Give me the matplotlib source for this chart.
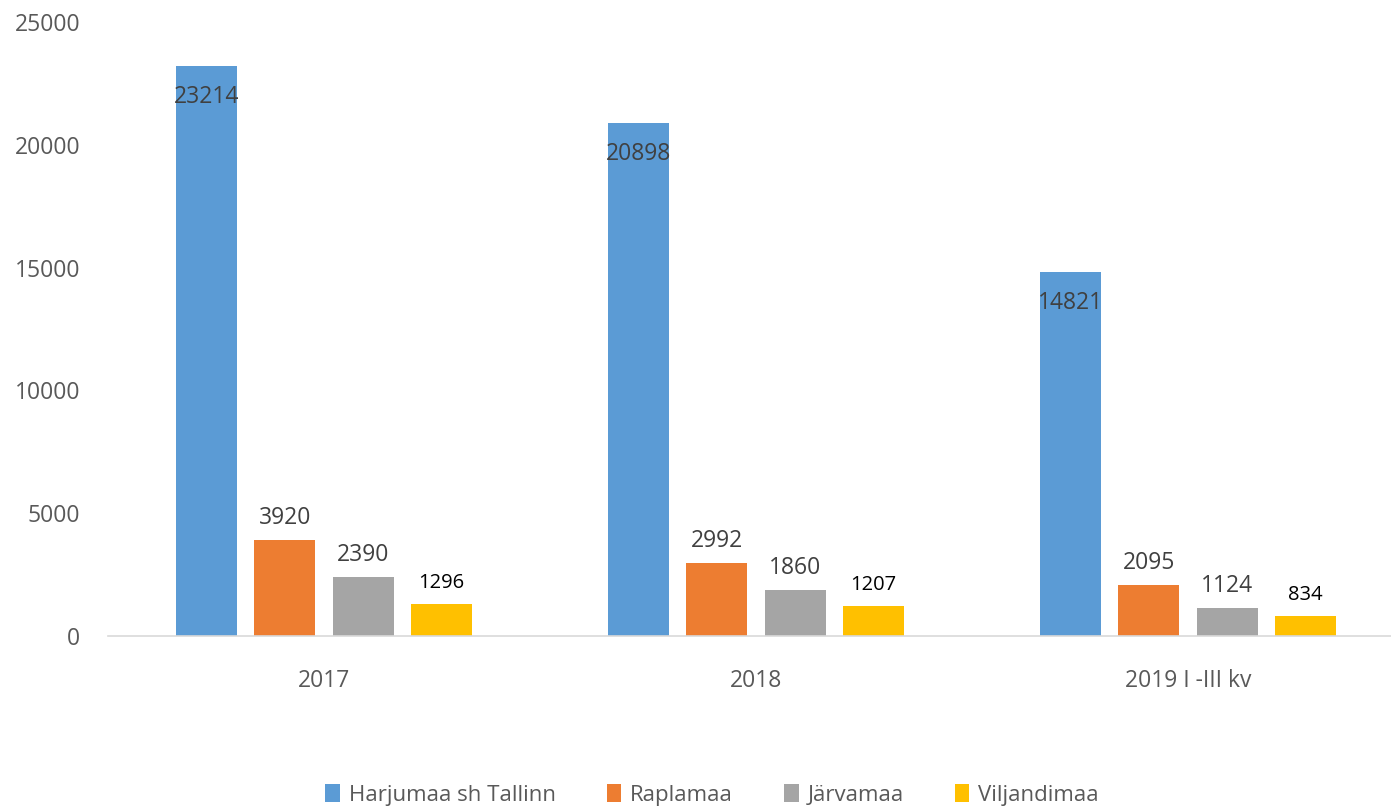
import numpy as np
import matplotlib.pyplot as plt

# data
periods = ['2017', '2018', '2019 I -III kv']
series = ['Harjumaa sh Tallinn', 'Raplamaa', 'Järvamaa', 'Viljandimaa']
harjumaa = [23214, 20898, 14821]
raplamaa = [3920, 2992, 2095]
jarvamaa = [2390, 1860, 1124]
viljandimaa = [1296, 1207, 834]
colors = ['#5B9BD5', '#ED7D31', '#A5A5A5', '#FFC000']

plt.rcParams['font.family'] = ['Open Sans', 'DejaVu Sans']

W, H = 1391, 809
fig = plt.figure(figsize=(W / 100, H / 100), dpi=100)
ax = fig.add_axes([108 / W, (H - 636) / H, 1296 / W, 614 / H])

x = np.arange(len(periods))
width = 0.141
step = 0.181
values = [harjumaa, raplamaa, jarvamaa, viljandimaa]
for i, (name, vals, c) in enumerate(zip(series, values, colors)):
    pos = x + (i - 1.5) * step
    ax.bar(pos, vals, width, color=c, label=name, zorder=2)
    for p, v in zip(pos, vals):
        if i == 0:
            # label sits inside the top of the tall bar
            ax.annotate(str(v), (p, v), xytext=(0, -31), textcoords='offset pixels',
                        ha='center', va='center', fontsize=16.5, color='#404040')
        elif i == 3:
            ax.annotate(str(v), (p, v), xytext=(0, 21), textcoords='offset pixels',
                        ha='center', va='center', fontsize=14.5, color='black')
        else:
            ax.annotate(str(v), (p, v), xytext=(0, 22), textcoords='offset pixels',
                        ha='center', va='center', fontsize=16.5, color='#404040')

ax.set_xlim(-0.5, 2.5)
ax.set_ylim(0, 25000)
ax.set_yticks(np.arange(0, 25001, 5000))
ax.set_xticks(x)
ax.set_xticklabels(periods)
ax.tick_params(axis='y', length=0, pad=20, labelsize=16.5, labelcolor='#595959')
ax.tick_params(axis='x', length=0, pad=24, labelsize=16.5, labelcolor='#595959')
for side in ['top', 'right', 'left']:
    ax.spines[side].set_visible(False)
ax.spines['bottom'].set_color('#D9D9D9')
ax.spines['bottom'].set_linewidth(1.2)

fig.legend(loc='center', bbox_to_anchor=(712 / W, (H - 795) / H), ncol=4, frameon=False,
           fontsize=16, handlelength=0.65, handleheight=0.85, handletextpad=0.4,
           columnspacing=2.3, labelcolor='#595959')

fig.savefig('out.png', dpi=100)
